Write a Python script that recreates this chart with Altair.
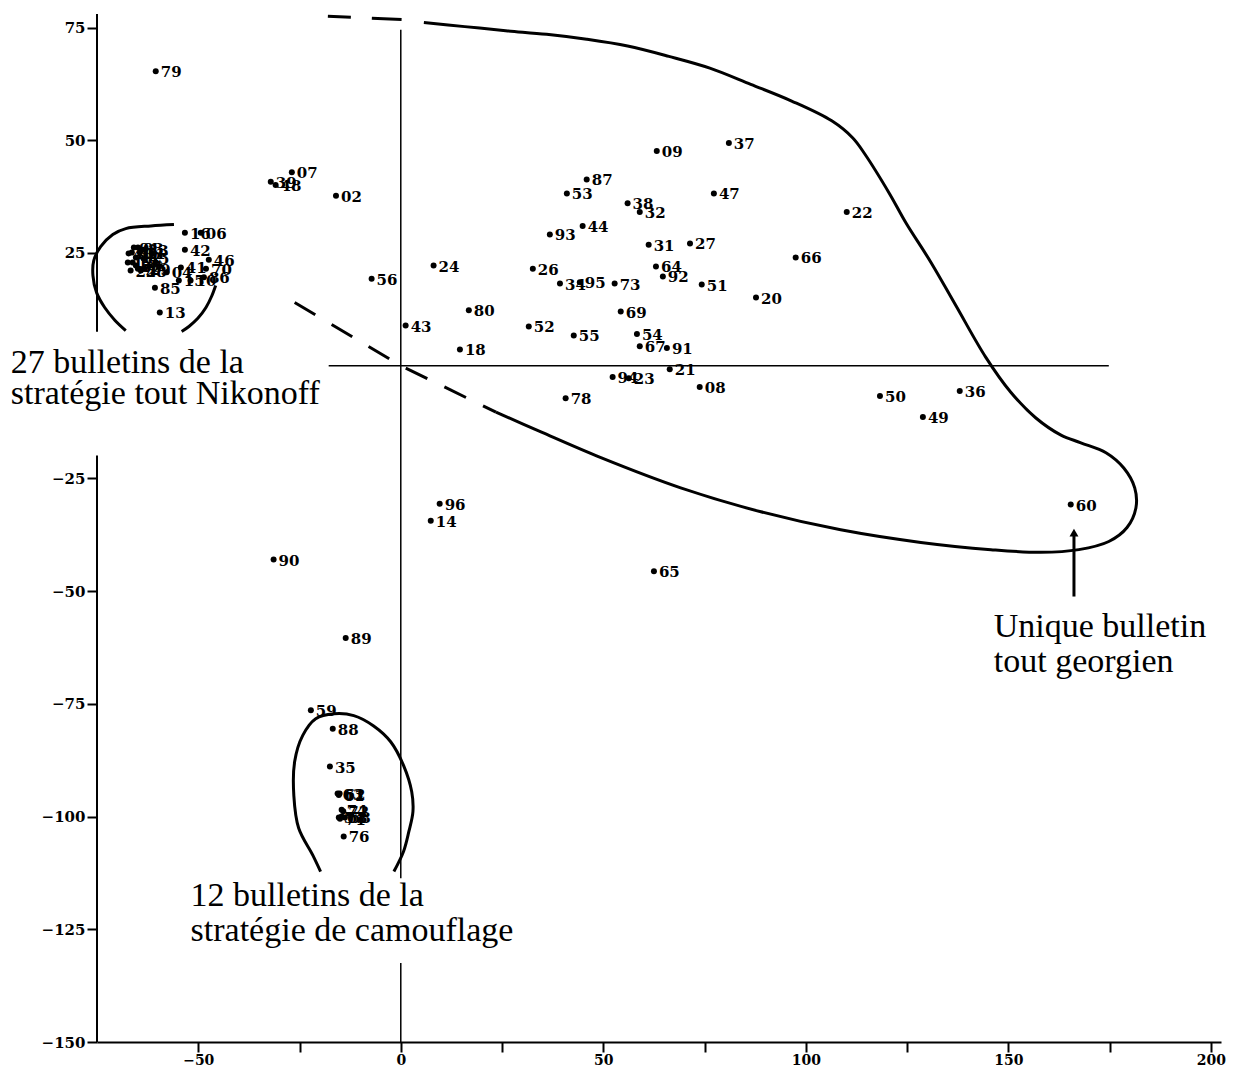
import altair as alt
import pandas as pd

# ---- bulletins (label, x, y) ----
labels = ["79", "07", "39", "48", "02", "56", "24", "80", "43", "18",
          "09", "37", "87", "53", "47", "38", "32", "44", "93", "31",
          "27", "26", "64", "92", "34", "95", "73", "51", "20", "69",
          "52", "55", "54", "67", "91", "21", "94", "23", "08", "78",
          "22", "66", "50", "49", "36", "60", "96", "14", "90", "89",
          "65", "59", "88", "35", "63", "62", "61", "74", "72", "57",
          "58", "68", "71", "76",
          "16", "06", "42", "46", "70", "41", "04", "86", "15", "10",
          "85", "13", "01", "03", "05", "11", "12", "17", "19", "25",
          "28", "29", "30", "33", "40", "45", "77"]
xs = [-60.5, -26.9, -32.1, -30.9, -16.0, -7.2, 8.1, 16.8, 1.2, 14.6,
      63.2, 81.0, 45.9, 41.0, 77.3, 56.0, 59.0, 44.9, 36.8, 61.2,
      71.4, 32.6, 63.0, 64.7, 39.3, 44.2, 52.8, 74.3, 87.7, 54.3,
      31.6, 42.7, 58.3, 59.0, 65.7, 66.4, 52.3, 56.3, 73.8, 40.7,
      110.1, 97.5, 118.3, 128.9, 138.0, 165.4, 9.6, 7.4, -31.4, -13.6,
      62.5, -22.2, -16.8, -17.5, -15.6, -15.1, -15.3, -14.6, -14.2, -15.3,
      -13.8, -14.6, -15.0, -14.1,
      -53.3, -49.4, -53.3, -47.4, -48.1, -54.3, -57.8, -48.6, -54.8, -51.9,
      -60.7, -59.5, -65.9, -64.9, -66.4, -64.4, -65.4, -67.4, -66.2, -66.7,
      -64.2, -63.2, -65.4, -63.7, -67.2, -63.5, -64.9]
ys = [65.3, 42.9, 40.8, 40.1, 37.7, 19.3, 22.2, 12.3, 8.9, 3.6,
      47.6, 49.4, 41.3, 38.2, 38.2, 36.0, 34.1, 31.0, 29.1, 26.8,
      27.1, 21.5, 22.0, 19.8, 18.2, 18.5, 18.2, 18.0, 15.1, 12.0,
      8.7, 6.7, 7.0, 4.3, 3.9, -0.8, -2.5, -2.8, -4.7, -7.2,
      34.1, 24.0, -6.7, -11.4, -5.6, -30.8, -30.6, -34.4, -43.0, -60.4,
      -45.6, -76.4, -80.5, -88.9, -94.9, -94.9, -95.2, -98.5, -98.8, -100.2,
      -100.2, -100.0, -100.5, -104.4,
      29.5, 29.5, 25.7, 23.5, 21.5, 21.8, 20.7, 19.6, 18.9, 18.9,
      17.3, 11.8, 26.2, 26.2, 25.1, 25.1, 24.0, 22.9, 22.9, 21.1,
      21.1, 21.5, 22.2, 25.7, 24.9, 23.8, 21.5]

# ---- hand-drawn outlines (data units) ----
big_x = [5.7, 15.8, 25.9, 36.0, 45.9, 56.0, 66.2, 76.3, 86.4, 96.5, 106.4, 111.6,
         114.6, 120.7, 124.7, 130.9, 137.0, 144.4, 150.6, 156.8, 163.0, 167.9, 174.1,
         178.5, 181.2, 181.5, 179.3, 174.8, 167.4, 158.0, 145.7, 128.4, 108.6, 88.9,
         69.1, 49.4, 34.6, 23.5]
big_y = [76.1, 75.2, 74.3, 73.5, 72.4, 70.9, 68.6, 66.0, 62.4, 58.7, 54.3, 50.5,
         46.9, 38.1, 31.7, 22.9, 13.4, 1.9, -5.9, -11.6, -15.4, -17.1, -19.3,
         -22.7, -27.1, -31.5, -35.9, -39.0, -40.8, -41.4, -40.8, -39.2, -36.4, -32.4,
         -27.1, -20.4, -14.7, -10.3]
dash_top_x = [-18.0, 0.2]
dash_top_y = [77.5, 76.8]
dash_low_x = [-26.2, 0.0, 23.5]
dash_low_y = [14.0, 0.0, -10.3]
nik_left_x = [-56.0, -61.7, -67.9, -71.1, -74.1, -75.8, -76.0, -75.1, -73.1, -70.6, -67.9]
nik_left_y = [31.3, 31.0, 30.4, 29.1, 26.4, 23.3, 20.0, 16.2, 12.9, 10.1, 7.8]
nik_right_x = [-45.7, -46.7, -48.1, -50.1, -52.3, -54.1]
nik_right_y = [17.8, 15.4, 12.9, 10.5, 8.7, 7.6]
cam_x = [-19.8, -21.7, -25.2, -26.4, -26.2, -24.2, -21.0, -16.5, -11.6, -6.7, -2.5,
         0.7, 2.7, 3.0, 2.0, 0.7, -1.7]
cam_y = [-112.2, -108.6, -102.6, -95.4, -87.8, -82.0, -78.3, -77.2, -77.6, -79.9,
         -83.4, -88.7, -94.5, -98.9, -103.3, -107.7, -112.2]

# ---- reference lines (segments) ----
seg_x = [0.0, 0.0, -17.8, -75.0, -75.0]
seg_y = [74.5, -132.5, 0.0, 78.0, -19.9]
seg_x2 = [0.0, 0.0, 174.8, -75.0, -75.0]
seg_y2 = [-113.7, -150.0, 0.0, 7.5, -150.0]
seg_w = [1.5, 1.5, 1.5, 2.0, 2.0]

# ---- annotation texts ----
note_text = ["27 bulletins de la", "stratégie tout Nikonoff",
             "12 bulletins de la", "stratégie de camouflage",
             "Unique bulletin", "tout georgien"]
note_x = [-96.3, -96.3, -51.9, -51.9, 146.4, 146.4]
note_y = [-1.7, -8.6, -119.9, -127.6, -60.2, -68.0]

arrow_x = [166.2]
arrow_y = [-51.2]
arrow_y2 = [-37.0]

x_ticks = [-50, -25, 0, 25, 50, 75, 100, 125, 150, 175, 200]
y_ticks = [75, 50, 25, -25, -50, -75, -100, -125, -150]

# ---- tables ----
pts = pd.DataFrame({"lab": labels, "x": xs, "y": ys})


def curve(cx, cy, name):
    return pd.DataFrame({"x": cx, "y": cy, "i": list(range(len(cx))), "seg": name})


solid = pd.concat([curve(big_x, big_y, "big"), curve(nik_left_x, nik_left_y, "nl"),
                   curve(nik_right_x, nik_right_y, "nr"), curve(cam_x, cam_y, "cam")])
dash_top = curve(dash_top_x, dash_top_y, "dt")
dash_low = curve(dash_low_x, dash_low_y, "dl")
segs = pd.DataFrame({"x": seg_x, "y": seg_y, "x2": seg_x2, "y2": seg_y2, "w": seg_w})
notes = pd.DataFrame({"x": note_x, "y": note_y, "t": note_text})
arrow = pd.DataFrame({"x": arrow_x, "y": arrow_y, "y2": arrow_y2})

X = alt.X("x:Q", title=None,
          scale=alt.Scale(domain=[-75, 202.5], nice=False, zero=False),
          axis=alt.Axis(values=x_ticks, labelExpr="datum.value % 50 === 0 ? datum.label : ''",
                        labelOverlap=False, labelFlush=False, grid=False, domain=True,
                        tickSize=10, labelPadding=1, labelFontSize=14))
Y = alt.Y("y:Q", title=None,
          scale=alt.Scale(domain=[-150, 78], nice=False, zero=False),
          axis=alt.Axis(values=y_ticks, labelOverlap=False, labelFlush=False, grid=False,
                        domain=False, tickSize=10, labelPadding=2, labelFontSize=15))

rules = alt.Chart(segs).mark_rule(color="black").encode(
    x=X, y=Y, x2="x2:Q", y2="y2:Q",
    strokeWidth=alt.StrokeWidth("w:Q", scale=None))

solid_l = alt.Chart(solid).mark_line(color="black", strokeWidth=3, interpolate="catmull-rom",
                                     clip=False).encode(
    x=X, y=Y, order="i:Q", detail="seg:N")
dash_top_l = alt.Chart(dash_top).mark_line(color="black", strokeWidth=3,
                                           strokeDash=[23, 21, 32, 20], clip=False).encode(
    x=X, y=Y, order="i:Q")
dash_low_l = alt.Chart(dash_low).mark_line(color="black", strokeWidth=3, strokeDash=[24, 19],
                                           clip=False).encode(
    x=X, y=Y, order="i:Q")

dots = alt.Chart(pts).mark_circle(color="black", size=36, opacity=1).encode(x=X, y=Y)
labs = alt.Chart(pts).mark_text(align="left", baseline="middle", dx=5, dy=1,
                                font="DejaVu Serif", fontSize=15, fontWeight="bold",
                                color="black").encode(x=X, y=Y, text="lab:N")

note_l = alt.Chart(notes).mark_text(align="left", baseline="alphabetic",
                                    font="Liberation Serif", fontSize=34,
                                    color="black").encode(x=X, y=Y, text="t:N")

shaft = alt.Chart(arrow).mark_rule(color="black", strokeWidth=3).encode(x=X, y=Y, y2="y2:Q")
head = alt.Chart(arrow).mark_point(shape="triangle-up", filled=True, color="black",
                                   size=80, opacity=1).encode(x=X, y=alt.Y("y2:Q"))

chart = alt.layer(rules, solid_l, dash_top_l, dash_low_l, dots, labs, note_l, shaft, head).properties(
    width=1124, height=1028,
    padding={"left": 89, "top": 6, "right": 5, "bottom": 25},
    autosize=alt.AutoSizeParams(type="none"),
).configure_view(stroke=None).configure_axis(
    labelFont="DejaVu Serif", labelFontWeight="bold", labelColor="black",
    tickColor="black", tickWidth=2, domainColor="black", domainWidth=2,
)

chart.save("out.html", embed_options={"renderer": "svg", "actions": False})
